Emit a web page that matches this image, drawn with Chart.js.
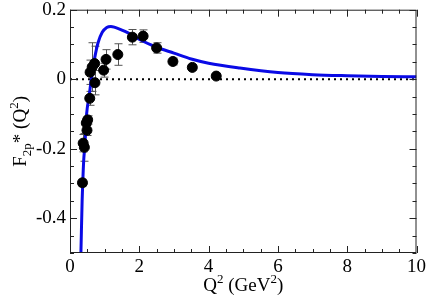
<!DOCTYPE html>
<html>
<head>
<meta charset="utf-8">
<script src="https://cdn.jsdelivr.net/npm/chart.js@4.4.0/dist/chart.umd.min.js"></script>
<style>
  html, body { margin: 0; padding: 0; background: #fff; }
  #wrap { width: 429px; height: 298px; }
</style>
</head>
<body>
<div id="wrap"><canvas id="chart_F2p"></canvas></div>
<script>
// measured points
var q2Data  = [0.36, 0.38, 0.415, 0.47, 0.49, 0.51, 0.57, 0.58, 0.64, 0.71, 0.72, 0.97, 1.04, 1.38, 1.80, 2.11, 2.50, 2.97, 3.53, 4.22];
var f2Data  = [-0.298, -0.184, -0.196, -0.126, -0.147, -0.117, -0.055, 0.020, 0.035, 0.045, -0.010, 0.026, 0.057, 0.071, 0.121, 0.124, 0.090, 0.051, 0.034, 0.009];
var errData = [0.010, 0.025, 0.040, 0.012, 0.015, 0.012, 0.020, 0.035, 0.070, 0.050, 0.035, 0.020, 0.028, 0.031, 0.022, 0.018, 0.015, 0.010, 0.008, 0.008];

// model curve
var curveQ2 = [0.30, 0.315, 0.35, 0.367, 0.395, 0.43, 0.48, 0.55, 0.615, 0.71, 0.81, 0.93, 1.06, 1.18, 1.30, 1.50, 1.78, 2.05, 2.50, 3.00, 3.50, 4.00, 4.90, 6.00, 7.00, 8.00, 9.00, 10.0];
var curveF2 = [-0.56, -0.50, -0.35, -0.30, -0.234, -0.19, -0.10, -0.05, 0.0, 0.06, 0.105, 0.135, 0.149, 0.152, 0.149, 0.141, 0.128, 0.112, 0.092, 0.075, 0.058, 0.046, 0.032, 0.019, 0.013, 0.010, 0.008, 0.007];

var xTicks = [0, 2, 4, 6, 8, 10];
var yTicks = [-0.4, -0.2, 0, 0.2];

var FONT = '"Liberation Serif", "DejaVu Serif", serif';

function toXY(xs, ys) {
  var out = [];
  for (var i = 0; i < xs.length; i++) out.push({x: xs[i], y: ys[i]});
  return out;
}

var errorBars = {
  id: 'errorBars',
  beforeDatasetsDraw: function(chart) {
    var ctx = chart.ctx, xs = chart.scales.x, ys = chart.scales.y;
    ctx.save();
    ctx.strokeStyle = '#555';
    ctx.lineWidth = 1;
    for (var i = 0; i < q2Data.length; i++) {
      var px = Math.round(xs.getPixelForValue(q2Data[i])) + 0.5;
      var top = ys.getPixelForValue(f2Data[i] + errData[i]);
      var bot = ys.getPixelForValue(f2Data[i] - errData[i]);
      ctx.beginPath();
      ctx.moveTo(px, top); ctx.lineTo(px, bot);
      ctx.moveTo(px - 4, top); ctx.lineTo(px + 4, top);
      ctx.moveTo(px - 4, bot); ctx.lineTo(px + 4, bot);
      ctx.stroke();
    }
    ctx.restore();
  }
};

// frame with inward ticks, plus axis titles with sub/superscripts
var frame = {
  id: 'frame',
  afterDraw: function(chart) {
    var ctx = chart.ctx, a = chart.chartArea, xs = chart.scales.x, ys = chart.scales.y;
    ctx.save();
    ctx.strokeStyle = '#222';
    ctx.lineWidth = 1;
    ctx.strokeRect(a.left + 0.5, a.top + 0.5, a.right - a.left - 1, a.bottom - a.top - 1);
    ctx.beginPath();
    for (var v = 0; v <= 10.001; v += 0.5) {
      var px = Math.round(xs.getPixelForValue(v)) + 0.5;
      var len = (Math.abs(v % 2) < 0.01) ? 7 : 4;
      ctx.moveTo(px, a.bottom); ctx.lineTo(px, a.bottom - len);
      ctx.moveTo(px, a.top); ctx.lineTo(px, a.top + len);
    }
    for (var k = -10; k <= 4; k++) {
      var w = k * 0.05;
      var py = Math.round(ys.getPixelForValue(w)) + 0.5;
      var l2 = (k % 4 === 0) ? 7 : 4;
      ctx.moveTo(a.left, py); ctx.lineTo(a.left + l2, py);
      ctx.moveTo(a.right, py); ctx.lineTo(a.right - l2, py);
    }
    ctx.stroke();

    ctx.fillStyle = '#000';
    ctx.textBaseline = 'alphabetic';
    // x title: Q^2 (GeV^2)
    var big = '19px ' + FONT, small = '13px ' + FONT;
    var parts = [['Q', big, 0], ['2', small, -8], [' (GeV', big, 0], ['2', small, -8], [')', big, 0]];
    var total = 0;
    parts.forEach(function(p) { ctx.font = p[1]; total += ctx.measureText(p[0]).width; });
    var cx = (a.left + a.right) / 2 - total / 2;
    parts.forEach(function(p) {
      ctx.font = p[1];
      ctx.fillText(p[0], cx, 291 + p[2]);
      cx += ctx.measureText(p[0]).width;
    });
    // y title: F_2p* (Q^2)
    var yparts = [['F', big, 0], ['2p', small, 5], ['*', big, 0], [' (Q', big, 0], ['2', small, -8], [')', big, 0]];
    total = 0;
    yparts.forEach(function(p) { ctx.font = p[1]; total += ctx.measureText(p[0]).width; });
    ctx.translate(26, (a.top + a.bottom) / 2);
    ctx.rotate(-Math.PI / 2);
    var cy = -total / 2;
    yparts.forEach(function(p) {
      ctx.font = p[1];
      ctx.fillText(p[0], cy, p[2]);
      cy += ctx.measureText(p[0]).width;
    });
    ctx.restore();
  }
};

new Chart(document.getElementById('chart_F2p'), {
  type: 'scatter',
  data: {
    datasets: [{
      label: 'data',
      data: toXY(q2Data, f2Data),
      backgroundColor: '#000',
      borderColor: '#000',
      pointRadius: 5,
      pointHoverRadius: 5,
      showLine: false
    }, {
      label: 'model',
      data: toXY(curveQ2, curveF2),
      borderColor: '#0a0ae6',
      borderWidth: 3,
      pointRadius: 0,
      showLine: true,
      cubicInterpolationMode: 'monotone'
    }, {
      label: 'zero',
      data: toXY([0, 10], [0, 0]),
      borderColor: '#000',
      borderWidth: 2,
      borderDash: [2, 4],
      pointRadius: 0,
      showLine: true
    }]
  },
  options: {
    responsive: true,
    maintainAspectRatio: false,
    animation: false,
    layout: { padding: { top: 6, right: 10, left: 0, bottom: 0 } },
    plugins: { legend: { display: false }, tooltip: { enabled: false } },
    scales: {
      x: {
        type: 'linear', min: 0, max: 10,
        afterBuildTicks: function(s) { s.ticks = xTicks.map(function(v) { return {value: v}; }); },
        afterFit: function(s) { s.height = 45; },
        grid: { display: false, drawTicks: false },
        border: { display: false },
        ticks: { color: '#000', padding: 3, font: { family: FONT, size: 19 }, maxRotation: 0 }
      },
      y: {
        type: 'linear', min: -0.5, max: 0.2,
        afterBuildTicks: function(s) { s.ticks = yTicks.map(function(v) { return {value: v}; }); },
        afterFit: function(s) { s.width = 70; },
        grid: { display: false, drawTicks: false },
        border: { display: false },
        ticks: { color: '#000', padding: 4, font: { family: FONT, size: 19, lineHeight: 0.6 },
          callback: function(v) { return v === 0 ? '0' : String(Math.round(v * 10) / 10); } }
      }
    }
  },
  plugins: [errorBars, frame]
});
</script>
</body>
</html>
